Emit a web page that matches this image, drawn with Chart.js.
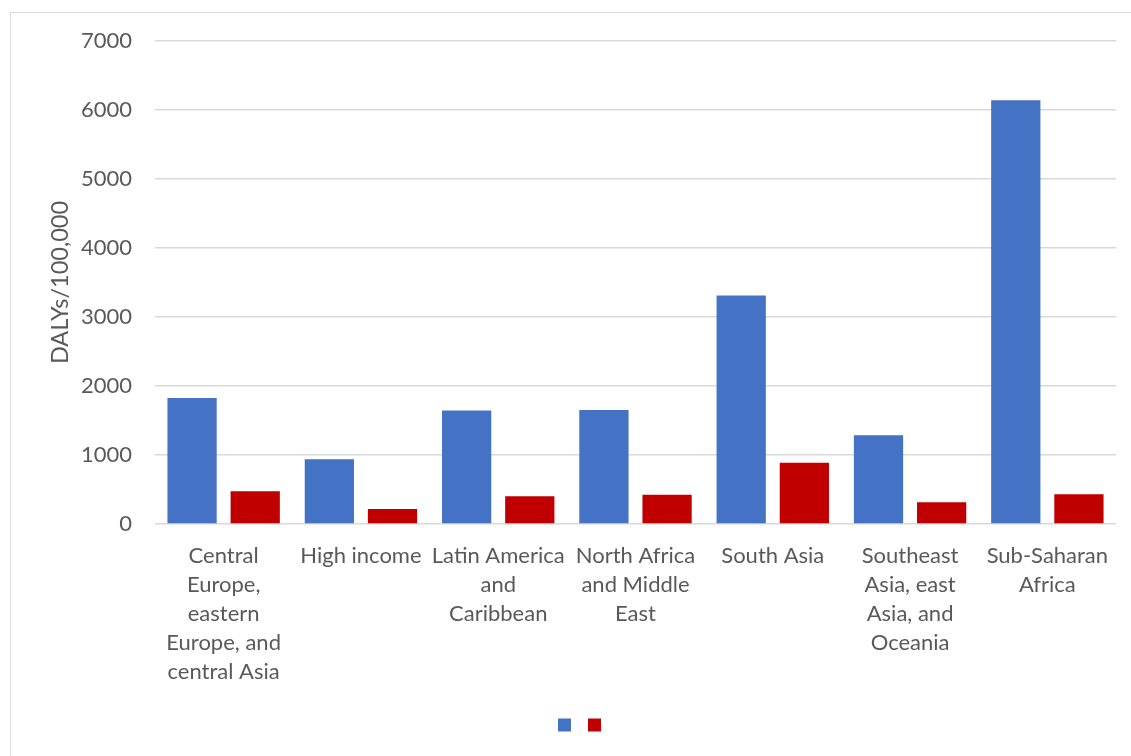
<!DOCTYPE html>
<html>
<head>
<meta charset="utf-8">
<script src="https://cdn.jsdelivr.net/npm/chart.js@4/dist/chart.umd.min.js"></script>
<style>
  html, body { margin: 0; padding: 0; background: #fff; overflow: hidden; }
  #wrap { position: relative; width: 1131px; height: 756px; overflow: hidden; }
  #frame { position: absolute; left: 10px; top: 12px; width: 1300px; height: 900px;
           border: 1.5px solid #d9d9d9; box-sizing: border-box; }
  #c { position: absolute; left: 0; top: 0; }
</style>
</head>
<body>
<div id="wrap">
  <div id="frame"></div>
  <canvas id="c" width="1131" height="756"></canvas>
</div>
<script>
// Regions (multi-line labels are split on "\n")
const regions = [
  "Central\nEurope,\neastern\nEurope, and\ncentral Asia",
  "High income",
  "Latin America\nand\nCaribbean",
  "North Africa\nand Middle\nEast",
  "South Asia",
  "Southeast\nAsia, east\nAsia, and\nOceania",
  "Sub-Saharan\nAfrica"
];
// DALYs per 100,000, two series
const seriesBlue = [1825, 940, 1645, 1651, 3311, 1288, 6143];
const seriesRed  = [475, 218, 402, 425, 886, 315, 431];
// Y axis tick values
const yTicks = [0, 1000, 2000, 3000, 4000, 5000, 6000, 7000];

const textColor = '#595959';
const gridColor = '#d9d9d9';
const fontFamily = 'Lato, "Open Sans", sans-serif';

// Nudges the legend so the two swatches sit a little right of centre
const legendShift = {
  id: 'legendShift',
  afterLayout(chart) { chart.legend.left += 8; }
};

new Chart(document.getElementById('c'), {
  type: 'bar',
  data: {
    labels: regions.map(s => s.split('\n')),
    datasets: [
      { label: '', data: seriesBlue, backgroundColor: '#4472C4' },
      { label: '', data: seriesRed,  backgroundColor: '#C00000' }
    ]
  },
  plugins: [legendShift],
  options: {
    responsive: false,
    animation: false,
    devicePixelRatio: 1,
    layout: { padding: { left: 42, right: 15, top: 41, bottom: 14 } },
    datasets: { bar: { categoryPercentage: 0.92, barPercentage: 0.78 } },
    scales: {
      x: {
        grid: { display: false, drawTicks: false },
        border: { display: false },
        ticks: {
          color: textColor,
          font: { family: fontFamily, size: 22, lineHeight: 1.32 },
          padding: 17,
          maxRotation: 0,
          autoSkip: false
        },
        afterFit(scale) { scale.height = 184; }
      },
      y: {
        min: 0,
        max: 7000,
        afterBuildTicks(scale) { scale.ticks = yTicks.map(v => ({ value: v })); },
        grid: { color: gridColor, lineWidth: 1.5, drawTicks: false },
        border: { display: false },
        ticks: {
          color: textColor,
          font: { family: fontFamily, size: 22 },
          padding: 23,
          callback: v => String(v)
        },
        title: {
          display: true,
          text: 'DALYs/100,000',
          color: textColor,
          font: { family: fontFamily, size: 23.5 },
          padding: { top: 4, bottom: 0 }
        },
        afterFit(scale) { scale.width = 113; }
      }
    },
    plugins: {
      tooltip: { enabled: false },
      legend: {
        position: 'bottom',
        labels: { boxWidth: 13, boxHeight: 13, padding: 10, font: { size: 14 } }
      }
    }
  }
});
</script>
</body>
</html>
